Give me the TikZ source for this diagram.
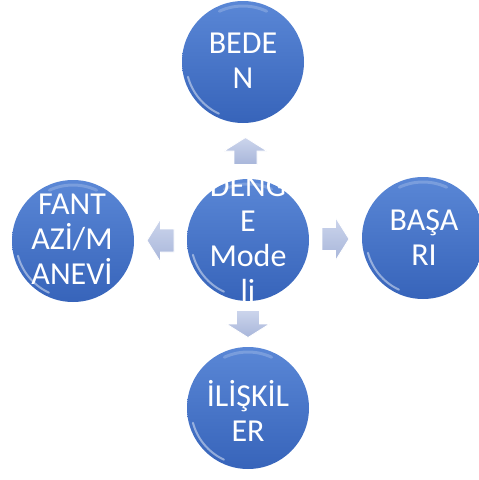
\documentclass[tikz,border=0pt]{standalone}
\usepackage{fontspec}
\setmainfont{Carlito}
\usetikzlibrary{calc}

\definecolor{bubbletop}{RGB}{90,135,214}
\definecolor{bubblemid}{RGB}{68,114,196}
\definecolor{bubblebot}{RGB}{55,100,186}
\definecolor{arrowtop}{RGB}{204,213,236}
\definecolor{arrowbot}{RGB}{168,182,218}

\tikzset{
	bubble/.style={circle, minimum size=122pt, inner sep=0pt,
		top color=bubbletop, middle color=bubblemid, bottom color=bubblebot,
		path picture={
			\draw[white, opacity=0.45, line width=2pt, line cap=round]
				(path picture bounding box.center) ++(195:57pt) arc (195:245:57pt);
			\draw[white, opacity=0.2, line width=3pt, line cap=round]
				(path picture bounding box.center) ++(65:56pt) arc (65:115:56pt);
		}},
	bubbletext/.style={text=white, align=center, inner sep=0pt,
		font=\fontsize{32}{35}\selectfont},
	blockarr/.pic={
		\draw[white, line width=0.8pt, top color=arrowtop, bottom color=arrowbot, line join=miter]
			(0,13.5) -- (21.5,0) -- (11.5,0) -- (11.5,-13.5) -- (-11.5,-13.5)
			-- (-11.5,0) -- (-21.5,0) -- cycle;
	}
}

\begin{document}
\begin{tikzpicture}[x=1pt, y=1pt]
	\useasboundingbox (0,0) rectangle (479,-480);
	
	% Circles
	\node[bubble] (dengeC) at (248,-240) {};
	\node[bubble] (bedenC) at (243,-62) {};
	\node[bubble] (fantaziC) at (73,-241) {};
	\node[bubble] (basariC) at (423,-238) {};
	\node[bubble] (iliskiC) at (248,-408) {};
	
	% Texts
	\node[bubbletext] (dengeT) at (248,-239) {DENG\\E\\Mode\\li};
	\node[bubbletext] (bedenT) at (243,-61) {BEDE\\N};
	\node[bubbletext] (fantaziT) at (72,-239) {FANT\\AZİ/M\\ANEVİ};
	\node[bubbletext] (basariT) at (424,-238) {BAŞA\\RI};
	\node[bubbletext] (iliskiT) at (248,-411) {İLİŞKİL\\ER};
	
	% Arrows
	\pic at ($(dengeC)!0.5!(bedenC)$) {blockarr};
	\pic[rotate=180] at ($(dengeC)!0.5!(iliskiC)$) {blockarr};
	\pic[rotate=90] at ($(dengeC)!0.5!(fantaziC)$) {blockarr};
	\pic[rotate=-90] at ($(dengeC)!0.5!(basariC)$) {blockarr};
\end{tikzpicture}
\end{document}
